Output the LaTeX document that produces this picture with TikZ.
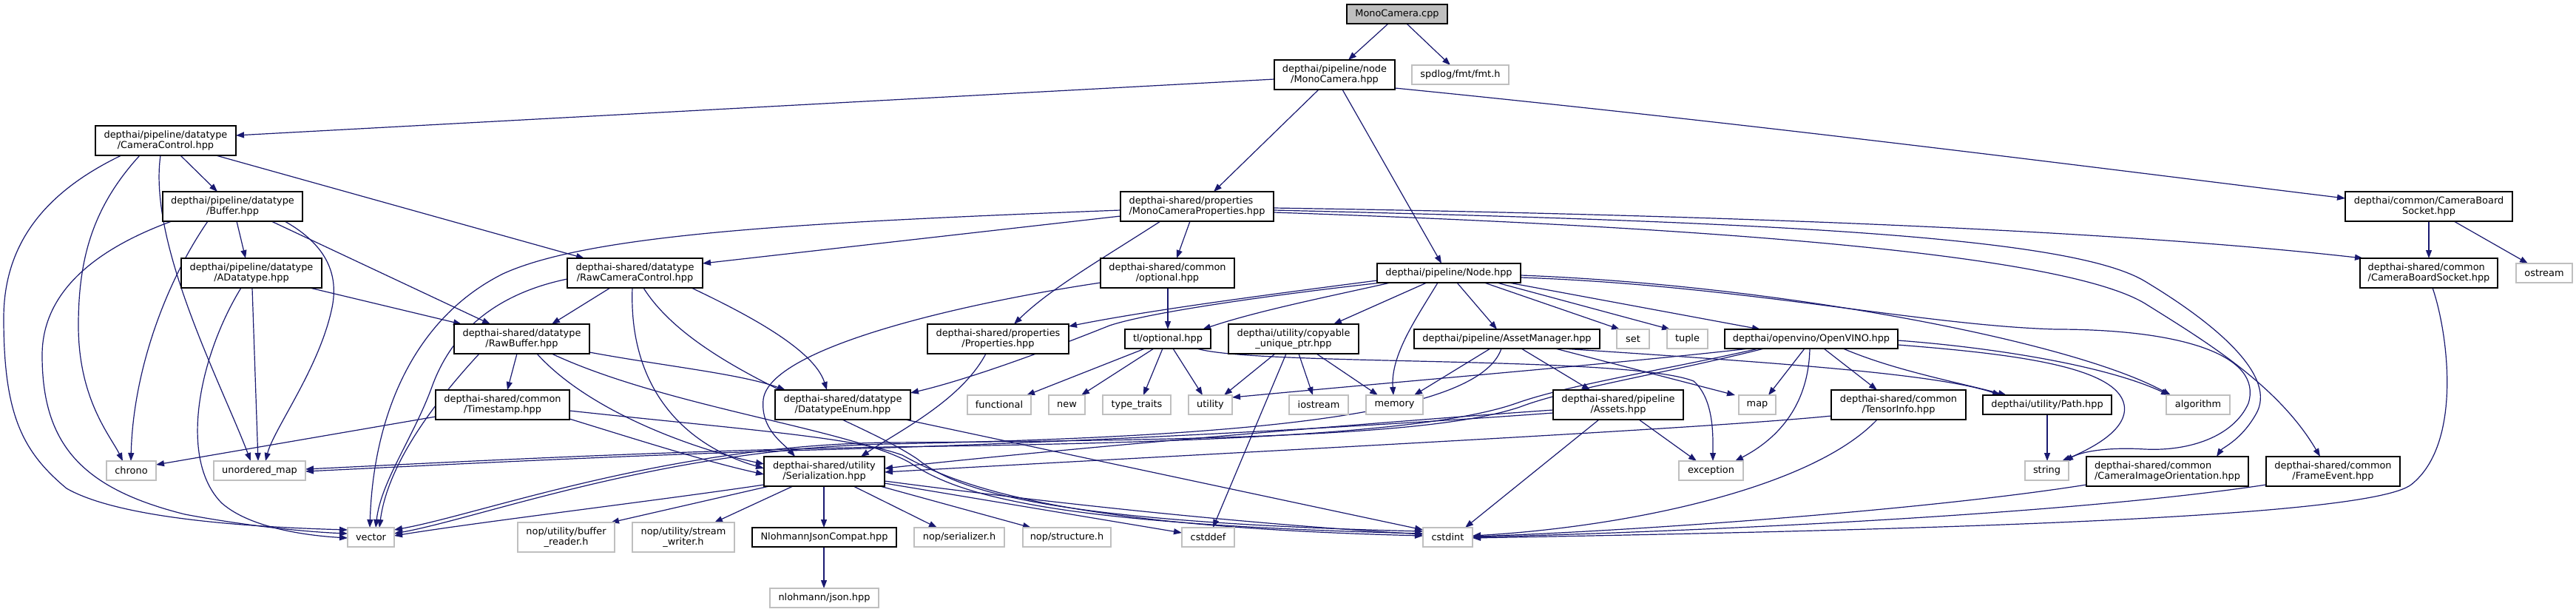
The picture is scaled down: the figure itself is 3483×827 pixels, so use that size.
\documentclass[tikz,border=0pt]{standalone}
\usepackage{fontspec}
\setmainfont{DejaVu Sans}
\usetikzlibrary{arrows.meta}
\definecolor{edgeblue}{HTML}{191970}
\definecolor{sysgray}{HTML}{BFBFBF}
\definecolor{rootgray}{HTML}{BFBFBF}
\pgfdeclarelayer{edgelayer}
\pgfsetlayers{edgelayer,main}
\tikzset{
  base/.style={rectangle, inner sep=0pt, outer sep=0pt, fill=white, align=center,
    font=\fontsize{12.9}{14.7}\selectfont},
  proj/.style={base, draw=black, line width=1.3pt},
  sys/.style={base, draw=sysgray, line width=1.7pt},
  root/.style={base, draw=black, fill=rootgray, line width=1.3pt},
  lft/.style={align=left},
  e/.style={draw=edgeblue, line width=1.2pt, -{Triangle[length=11pt,width=8pt]}},
}
\newcommand\bx[7]{\node[#1, minimum width={#5-#3}, minimum height={#6-#4}] (#2) at ({(#3+#5)/2},{(#4+#6)/2}) {#7};}
\begin{document}
\begin{tikzpicture}[x=1pt,y=-1pt]
\begin{pgfonlayer}{edgelayer}
\fill[white] (0,0) rectangle (3483,827);
\end{pgfonlayer}
\useasboundingbox (0,0) rectangle (3483,827);
% ---------- nodes ----------
\bx{root}{cpp}{1821}{6}{1957}{32}{MonoCamera.cpp}
\bx{proj}{mch}{1723}{81}{1886}{121}{depthai/pipeline/node\\/MonoCamera.hpp}
\bx{sys}{fmt}{1909}{88}{2040}{114}{spdlog/fmt/fmt.h}
\bx{proj}{cc}{129}{170}{319}{210}{depthai/pipeline/datatype\\/CameraControl.hpp}
\bx{proj,lft}{mcp}{1515}{259}{1722}{299}{depthai-shared/properties\\/MonoCameraProperties.hpp}
\bx{proj}{ncbs}{3171}{259}{3397}{299}{depthai/common/CameraBoard\\Socket.hpp}
\bx{proj}{buf}{220}{259}{409}{299}{depthai/pipeline/datatype\\/Buffer.hpp}
\bx{proj}{adt}{245}{349}{435}{389}{depthai/pipeline/datatype\\/ADatatype.hpp}
\bx{proj}{rcc}{767}{349}{950}{389}{depthai-shared/datatype\\/RawCameraControl.hpp}
\bx{proj}{opt}{1488}{349}{1669}{389}{depthai-shared/common\\/optional.hpp}
\bx{proj}{node}{1862}{356}{2056}{382}{depthai/pipeline/Node.hpp}
\bx{proj,lft}{scbs}{3191}{349}{3377}{389}{depthai-shared/common\\/CameraBoardSocket.hpp}
\bx{sys}{ostream}{3402}{356}{3478}{382}{ostream}
\bx{proj}{rb}{614}{438}{797}{478}{depthai-shared/datatype\\/RawBuffer.hpp}
\bx{proj}{props}{1254}{438}{1445}{478}{depthai-shared/properties\\/Properties.hpp}
\bx{proj}{tlopt}{1521}{445}{1637}{471}{tl/optional.hpp}
\bx{proj}{cup}{1661}{438}{1837}{478}{depthai/utility/copyable\\\_unique\_ptr.hpp}
\bx{proj}{am}{1912}{445}{2163}{471}{depthai/pipeline/AssetManager.hpp}
\bx{sys}{set}{2186}{445}{2230}{471}{set}
\bx{sys}{tuple}{2254}{445}{2309}{471}{tuple}
\bx{proj}{ov}{2332}{445}{2566}{471}{depthai/openvino/OpenVINO.hpp}
\bx{proj}{ts}{589}{527}{770}{567}{depthai-shared/common\\/Timestamp.hpp}
\bx{proj}{dte}{1048}{527}{1231}{567}{depthai-shared/datatype\\/DatatypeEnum.hpp}
\bx{sys}{functional}{1308}{534}{1394}{560}{functional}
\bx{sys}{new}{1418}{534}{1467}{560}{new}
\bx{sys}{tt}{1491}{534}{1583}{560}{type\_traits}
\bx{sys}{utility}{1607}{534}{1666}{560}{utility}
\bx{sys}{iostream}{1743}{534}{1823}{560}{iostream}
\bx{sys}{memory}{1847}{534}{1924}{560}{memory}
\bx{proj}{assets}{2100}{527}{2276}{567}{depthai-shared/pipeline\\/Assets.hpp}
\bx{sys}{map}{2351}{534}{2401}{560}{map}
\bx{proj}{ti}{2476}{527}{2658}{567}{depthai-shared/common\\/TensorInfo.hpp}
\bx{proj}{path}{2681}{534}{2855}{560}{depthai/utility/Path.hpp}
\bx{sys}{algorithm}{2929}{534}{3015}{560}{algorithm}
\bx{sys}{chrono}{144}{623}{211}{649}{chrono}
\bx{sys}{umap}{289}{623}{413}{649}{unordered\_map}
\bx{proj}{ser}{1033}{617}{1196}{657}{depthai-shared/utility\\/Serialization.hpp}
\bx{sys}{exception}{2270}{623}{2357}{649}{exception}
\bx{sys}{string}{2738}{623}{2797}{649}{string}
\bx{proj,lft}{cio}{2821}{617}{3040}{657}{depthai-shared/common\\/CameraImageOrientation.hpp}
\bx{proj}{fe}{3064}{617}{3245}{657}{depthai-shared/common\\/FrameEvent.hpp}
\bx{sys}{vector}{470}{713}{533}{739}{vector}
\bx{sys}{br}{700}{706}{831}{746}{nop/utility/buffer\\\_reader.h}
\bx{sys}{sw}{855}{706}{993}{746}{nop/utility/stream\\\_writer.h}
\bx{proj}{njc}{1017}{713}{1212}{739}{NlohmannJsonCompat.hpp}
\bx{sys}{nser}{1236}{713}{1358}{739}{nop/serializer.h}
\bx{sys}{nstr}{1383}{713}{1502}{739}{nop/structure.h}
\bx{sys}{cstddef}{1598}{713}{1669}{739}{cstddef}
\bx{sys}{cstdint}{1924}{713}{1991}{739}{cstdint}
\bx{sys}{json}{1041}{795}{1188}{821}{nlohmann/json.hpp}
% ---------- edges ----------
\begin{pgfonlayer}{edgelayer}
% MonoCamera.cpp
\draw[e] (cpp.south -| 1877,0) -- (mch.north -| 1823,0);
\draw[e] (cpp.south -| 1902,0) -- (fmt.north -| 1961,0);
% MonoCamera.hpp
\draw[e] (mch.west |- 0,107) -- (cc.east |- 0,183);
\draw[e] (mch.south -| 1783,0) -- (mcp.north -| 1641,0);
\draw[e] (mch.south -| 1815,0) -- (node.north -| 1949,0);
\draw[e] (mch.east |- 0,119) .. controls (2400,170) and (2900,235) .. (ncbs.west |- 0,268);
% CameraControl
\draw[e] (cc.south -| 244,0) -- (buf.north -| 294,0);
\draw[e] (cc.south -| 292,0) -- (rcc.north -| 790,0);
\draw[e] (cc.south -| 164,0) .. controls (60,260) and (5,330) .. (5,430) .. controls (5,560) and (30,610) .. (90,660) .. controls (160,700) and (330,712) .. (vector.west |- 0,716);
\draw[e] (cc.south -| 189,0) .. controls (125,280) and (106,350) .. (106,440) .. controls (106,540) and (150,590) .. (chrono.north -| 166,0);
\draw[e] (cc.south -| 217,0) .. controls (200,330) and (300,520) .. (umap.north -| 339,0);
% Buffer
\draw[e] (buf.south -| 232,0) .. controls (120,340) and (57,400) .. (57,480) .. controls (57,600) and (110,660) .. (250,695) .. controls (340,712) and (420,719) .. (vector.west |- 0,721);
\draw[e] (buf.south -| 281,0) .. controls (225,380) and (180,500) .. (chrono.north -| 177,0);
\draw[e] (buf.south -| 320,0) -- (adt.north -| 332,0);
\draw[e] (buf.south -| 367,0) -- (rb.north -| 663,0);
\draw[e] (buf.south -| 385,0) .. controls (440,330) and (460,370) .. (448,420) .. controls (430,500) and (370,580) .. (umap.north -| 359,0);
% ADatatype
\draw[e] (adt.south -| 326,0) .. controls (270,480) and (240,620) .. (300,680) .. controls (340,715) and (420,724) .. (vector.west |- 0,727);
\draw[e] (adt.south -| 341,0) -- (umap.north -| 349,0);
\draw[e] (adt.south -| 419,0) -- (rb.north -| 624,0);
% RawCameraControl
\draw[e] (rcc.west |- 0,377) .. controls (680,395) and (615,440) .. (585,520) .. controls (560,590) and (515,650) .. (vector.north -| 508,0);
\draw[e] (rcc.south -| 825,0) -- (rb.north -| 746,0);
\draw[e] (rcc.south -| 855,0) .. controls (850,520) and (920,600) .. (ser.west |- 0,633);
\draw[e] (rcc.south -| 935,0) .. controls (1000,420) and (1100,470) .. (dte.north -| 1118,0);
\draw[e] (rcc.south -| 870,0) .. controls (940,500) and (1150,560) .. (1240,620) .. controls (1290,660) and (1400,705) .. (cstdint.west |- 0,718);
% RawBuffer
\draw[e] (rb.south -| 648,0) .. controls (600,530) and (525,620) .. (vector.north -| 513,0);
\draw[e] (rb.south -| 699,0) -- (ts.north -| 686,0);
\draw[e] (rb.south -| 726,0) .. controls (800,560) and (950,610) .. (ser.west |- 0,627);
\draw[e] (rb.south -| 746,0) .. controls (900,550) and (1150,580) .. (1230,625) .. controls (1290,665) and (1400,708) .. (cstdint.west |- 0,721);
\draw[e] (rb.east |- 0,476) .. controls (900,495) and (1000,505) .. (dte.north -| 1062,0);
% Timestamp
\draw[e] (ts.west |- 0,563) -- (chrono.east |- 0,628);
\draw[e] (ts.east |- 0,566) .. controls (880,600) and (960,625) .. (ser.west |- 0,641);
\draw[e] (ts.east |- 0,555) .. controls (1000,580) and (1150,590) .. (1220,615) .. controls (1300,660) and (1450,712) .. (cstdint.west |- 0,724);
% MonoCameraProperties
\draw[e] (mcp.west |- 0,284) .. controls (1100,300) and (800,315) .. (680,370) .. controls (560,430) and (505,560) .. (vector.north -| 500,0);
\draw[e] (mcp.west |- 0,292) -- (rcc.east |- 0,356);
\draw[e] (mcp.south -| 1569,0) .. controls (1490,350) and (1420,390) .. (props.north -| 1371,0);
\draw[e] (mcp.south -| 1609,0) -- (opt.north -| 1591,0);
\draw[e] (mcp.east |- 0,281) .. controls (2300,290) and (2850,310) .. (scbs.north -| 3195,0);
\draw[e] (mcp.east |- 0,284) .. controls (2400,300) and (2800,320) .. (2900,380) .. controls (3000,440) and (3080,510) .. (3050,560) .. controls (3030,595) and (3005,605) .. (cio.north -| 2997,0);
\draw[e] (mcp.east |- 0,287) .. controls (2400,310) and (2800,350) .. (2900,410) .. controls (2980,460) and (3080,520) .. (fe.north -| 3137,0);
% optional (shared)
\draw[e] (opt.south -| 1579,0) -- (tlopt.north -| 1579,0);
\draw[e] (opt.west |- 0,382) .. controls (1300,410) and (1040,470) .. (1032,540) .. controls (1028,580) and (1060,600) .. (ser.north -| 1075,0);
% Properties
\draw[e] (props.south -| 1333,0) .. controls (1300,540) and (1220,580) .. (ser.north -| 1164,0);
% tl/optional
\draw[e] (tlopt.south -| 1548,0) -- (functional.north -| 1388,0);
\draw[e] (tlopt.south -| 1560,0) -- (new.north -| 1462,0);
\draw[e] (tlopt.south -| 1572,0) -- (tt.north -| 1546,0);
\draw[e] (tlopt.south -| 1586,0) -- (utility.north -| 1626,0);
\draw[e] (tlopt.south -| 1618,0) .. controls (1700,495) and (2200,480) .. (2290,515) .. controls (2318,540) and (2316,590) .. (exception.north -| 2316,0);
% copyable_unique_ptr
\draw[e] (cup.south -| 1724,0) -- (utility.north -| 1655,0);
\draw[e] (cup.south -| 1739,0) -- (cstddef.north -| 1640,0);
\draw[e] (cup.south -| 1756,0) -- (iostream.north -| 1775,0);
\draw[e] (cup.south -| 1780,0) -- (memory.north -| 1863,0);
% Node
\draw[e] (node.west |- 0,379) .. controls (1700,400) and (1550,420) .. (props.east |- 0,441);
\draw[e] (node.south -| 1868,0) .. controls (1750,395) and (1560,420) .. (1500,440) .. controls (1400,480) and (1300,515) .. (dte.east |- 0,531);
\draw[e] (node.south -| 1880,0) .. controls (1800,400) and (1700,420) .. (tlopt.north -| 1626,0);
\draw[e] (node.south -| 1929,0) -- (cup.north -| 1803,0);
\draw[e] (node.south -| 1944,0) .. controls (1915,430) and (1880,480) .. (memory.north -| 1884,0);
\draw[e] (node.south -| 1970,0) -- (am.north -| 2024,0);
\draw[e] (node.south -| 2007,0) -- (set.north -| 2190,0);
\draw[e] (node.south -| 2024,0) -- (tuple.north -| 2258,0);
\draw[e] (node.south -| 2040,0) -- (ov.north -| 2380,0);
\draw[e] (node.east |- 0,372) .. controls (2400,385) and (2800,460) .. (algorithm.north -| 2935,0);
\draw[e] (node.east |- 0,375) .. controls (2350,385) and (2600,440) .. (2780,445) .. controls (2950,445) and (3060,480) .. (3040,545) .. controls (3020,590) and (2960,610) .. (2900,607) .. controls (2850,604) and (2815,610) .. (string.north -| 2792,0);
% AssetManager
\draw[e] (am.south -| 2015,0) -- (memory.north -| 1912,0);
\draw[e] (am.south -| 2030,0) .. controls (2000,560) and (1700,590) .. (1200,600) .. controls (900,606) and (650,700) .. (vector.east |- 0,721);
\draw[e] (am.south -| 2057,0) -- (assets.north -| 2150,0);
\draw[e] (am.south -| 2103,0) -- (map.north -| 2346,0);
\draw[e] (am.south -| 2112,0) .. controls (2400,490) and (2620,505) .. (path.north -| 2705,0);
% OpenVINO
\draw[e] (ov.south -| 2378,0) .. controls (2250,500) and (2120,520) .. (2050,545) .. controls (1950,580) and (1700,598) .. (1200,604) .. controls (900,609) and (600,625) .. (umap.east |- 0,634);
\draw[e] (ov.south -| 2385,0) .. controls (2250,505) and (2120,525) .. (2055,550) .. controls (1950,585) and (1700,595) .. (1200,598) .. controls (900,602) and (650,695) .. (vector.east |- 0,716);
\draw[e] (ov.south -| 2365,0) .. controls (2200,490) and (1900,515) .. (utility.east |- 0,537);
\draw[e] (ov.south -| 2440,0) -- (map.north -| 2391,0);
\draw[e] (ov.south -| 2447,0) .. controls (2445,560) and (2390,600) .. (exception.north -| 2346,0);
\draw[e] (ov.south -| 2466,0) -- (ti.north -| 2538,0);
\draw[e] (ov.south -| 2492,0) .. controls (2560,500) and (2640,515) .. (path.north -| 2713,0);
\draw[e] (ov.east |- 0,460) .. controls (2700,470) and (2850,495) .. (algorithm.north -| 2933,0);
\draw[e] (ov.east |- 0,466) .. controls (2720,478) and (2862,495) .. (2872,547) .. controls (2878,580) and (2830,605) .. (string.north -| 2788,0);
% TensorInfo
\draw[e] (ti.west |- 0,562) .. controls (2300,580) and (1600,615) .. (ser.east |- 0,638);
\draw[e] (ti.south -| 2538,0) .. controls (2450,660) and (2200,712) .. (cstdint.east |- 0,724);
% Assets
\draw[e] (assets.south -| 2162,0) -- (cstdint.north -| 1981,0);
\draw[e] (assets.south -| 2216,0) -- (exception.north -| 2294,0);
\draw[e] (assets.west |- 0,554) .. controls (1800,575) and (1400,610) .. (ser.east |- 0,633);
\draw[e] (assets.west |- 0,558) .. controls (1800,580) and (1400,600) .. (1100,608) .. controls (850,615) and (600,628) .. (umap.east |- 0,637);
% Serialization
\draw[e] (ser.west |- 0,655) .. controls (900,675) and (650,705) .. (vector.east |- 0,724);
\draw[e] (ser.south -| 1040,0) -- (br.north -| 826,0);
\draw[e] (ser.south -| 1072,0) -- (sw.north -| 966,0);
\draw[e] (ser.south -| 1114,0) -- (njc.north -| 1114,0);
\draw[e] (ser.south -| 1154,0) -- (nser.north -| 1267,0);
\draw[e] (ser.south -| 1190,0) -- (nstr.north -| 1394,0);
\draw[e] (ser.east |- 0,653) -- (cstddef.west |- 0,720);
\draw[e] (ser.east |- 0,650) .. controls (1500,690) and (1750,712) .. (cstdint.west |- 0,722);
\draw[e] (njc.south -| 1114,0) -- (json.north -| 1114,0);
% DatatypeEnum
\draw[e] (dte.south -| 1224,0) -- (cstdint.west |- 0,716);
% right side
\draw[e] (cio.west |- 0,655) .. controls (2600,690) and (2200,718) .. (cstdint.east |- 0,725);
\draw[e] (fe.west |- 0,655) .. controls (2800,695) and (2300,718) .. (cstdint.east |- 0,726);
\draw[e] (scbs.south -| 3289,0) .. controls (3310,450) and (3330,600) .. (3260,655) .. controls (3200,700) and (2600,716) .. (cstdint.east |- 0,727);
\draw[e] (path.south -| 2768,0) -- (string.north -| 2768,0);
\draw[e] (ncbs.south -| 3284,0) -- (scbs.north -| 3284,0);
\draw[e] (ncbs.south -| 3318,0) -- (ostream.north -| 3418,0);
\end{pgfonlayer}
\end{tikzpicture}
\end{document}
